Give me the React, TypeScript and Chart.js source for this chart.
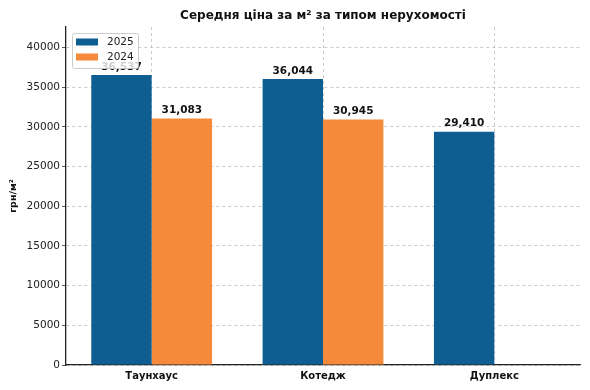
import React, { useEffect, useRef } from "react";
import { Chart, registerables } from "chart.js";

Chart.register(...registerables);

const categories = ["Таунхаус", "Котедж", "Дуплекс"];
const values2025 = [36537, 36044, 29410];
const values2024: (number | null)[] = [31083, 30945, null];
const seriesLabels = ["2025", "2024"];
const yTicks = [0, 5000, 10000, 15000, 20000, 25000, 30000, 35000, 40000];
const titleText = "Середня ціна за м² за типом нерухомості";
const yAxisTitle = "грн/м²";

const BLUE = "#0f5e91";
const ORANGE = "#f58b3a";
const FONT = "'DejaVu Sans', sans-serif";

const fmt = (v: number) => v.toLocaleString("en-US");

export default function App() {
  const ref = useRef<HTMLCanvasElement | null>(null);

  useEffect(() => {
    document.body.style.margin = "0";
    const canvas = ref.current!;
    const labelsPlugin = {
      id: "valueLabels",
      afterDatasetsDraw(chart: any) {
        const ctx = chart.ctx;
        ctx.save();
        ctx.font = `bold 10.5px ${FONT}`;
        ctx.fillStyle = "#111";
        ctx.textAlign = "center";
        ctx.textBaseline = "bottom";
        chart.data.datasets.forEach((ds: any, i: number) => {
          const meta = chart.getDatasetMeta(i);
          meta.data.forEach((bar: any, j: number) => {
            const v = ds.data[j];
            if (v == null) return;
            ctx.fillText(fmt(v), bar.x, bar.y - 3);
          });
        });
        ctx.restore();
      },
    };
    const decorPlugin = {
      id: "decor",
      afterDraw(chart: any) {
        const ctx = chart.ctx;
        const ca = chart.chartArea;
        ctx.save();
        // title
        ctx.font = `bold 12px ${FONT}`;
        ctx.fillStyle = "#111";
        ctx.textAlign = "center";
        ctx.textBaseline = "middle";
        ctx.fillText(titleText, (ca.left + ca.right) / 2, 16);
        // y axis title
        ctx.save();
        ctx.translate(14, (ca.top + ca.bottom) / 2);
        ctx.rotate(-Math.PI / 2);
        ctx.font = `bold 9.5px ${FONT}`;
        ctx.fillText(yAxisTitle, 0, 0);
        ctx.restore();
        // legend
        const lx = 72, ly = 33, lw = 66, lh = 35;
        ctx.fillStyle = "rgba(255,255,255,0.8)";
        ctx.strokeStyle = "rgba(200,200,200,0.9)";
        ctx.lineWidth = 1;
        ctx.beginPath();
        (ctx as any).roundRect(lx + 0.5, ly + 0.5, lw, lh, 2);
        ctx.fill();
        ctx.stroke();
        const colors = [BLUE, ORANGE];
        ctx.font = `10.5px ${FONT}`;
        ctx.textAlign = "left";
        seriesLabels.forEach((s, i) => {
          const y = ly + 9 + i * 15;
          ctx.fillStyle = colors[i];
          ctx.fillRect(lx + 4, y - 3.5, 22, 7);
          ctx.fillStyle = "#222";
          ctx.fillText(s, lx + 35, y + 0.5);
        });
        ctx.restore();
      },
    };

    const chart = new Chart(canvas, {
      type: "bar",
      data: {
        labels: categories,
        datasets: [
          { label: seriesLabels[0], data: values2025, backgroundColor: BLUE, categoryPercentage: 0.705, barPercentage: 1 },
          { label: seriesLabels[1], data: values2024, backgroundColor: ORANGE, categoryPercentage: 0.705, barPercentage: 1 },
        ],
      },
      options: {
        responsive: false,
        animation: false,
        layout: { padding: { left: 0, top: 27, right: 10, bottom: 0 } },
        plugins: {
          legend: { display: false },
          title: { display: false },
          tooltip: { enabled: false },
        },
        scales: {
          x: {
            offset: true,
            grid: {
              offset: false,
              color: "#bdbdbd",
              lineWidth: 0.8,
              drawTicks: false,
            } as any,
            border: { display: true, color: "#222", width: 1.3, dash: [3, 3] },
            ticks: {
              color: "#111",
              font: { family: FONT, size: 10, weight: "bold" },
              padding: 5,
            },
            afterFit(scale: any) {
              scale.height = 25;
            },
          },
          y: {
            min: 0,
            max: 42600,
            grid: {
              color: "#bdbdbd",
              lineWidth: 0.8,
              drawTicks: true,
              tickLength: 4,
              tickColor: "#333",
              tickBorderDash: [],
            } as any,
            border: { display: true, color: "#222", width: 1.3, dash: [3, 3] },
            ticks: {
              color: "#222",
              font: { family: FONT, size: 10.5 },
              padding: 2,
              stepSize: 5000,
              callback: (v: any) => String(v),
            },
            afterBuildTicks(scale: any) {
              scale.ticks = yTicks.map((v) => ({ value: v }));
            },
            afterFit(scale: any) {
              scale.width = 66;
            },
          },
        },
      } as any,
      plugins: [labelsPlugin, decorPlugin],
    });
    return () => chart.destroy();
  }, []);

  return <canvas ref={ref} width={590} height={390} style={{ display: "block" }} />;
}
